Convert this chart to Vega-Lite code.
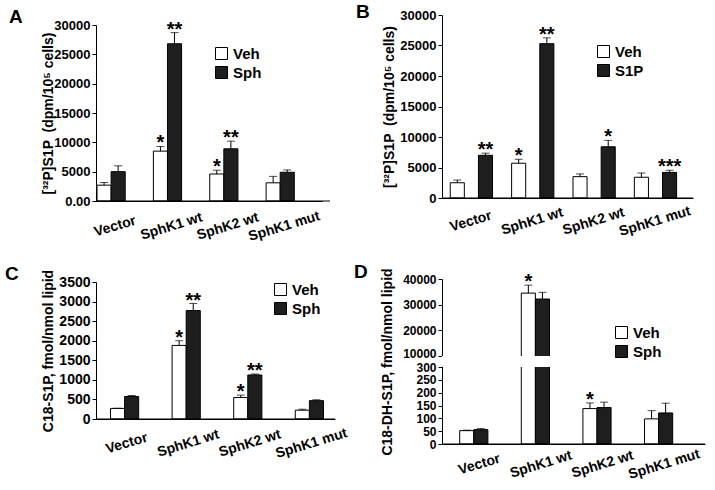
{
  "$schema": "https://vega.github.io/schema/vega-lite/v6.json",
  "padding": {"left": 5, "top": 3, "right": 5, "bottom": 5},
  "columns": 2,
  "bounds": "flush",
  "align": {"row": "all", "column": "none"},
  "spacing": {"row": 78, "column": 107},
  "resolve": {"scale": {"color": "independent"}, "legend": {"color": "independent"}},
  "concat": [
    {
      "width": 234, "height": 186,
      "title": {"text": "A", "anchor": "start", "frame": "group", "dx": -87, "dy": 11.7, "offset": 0},
      "layer": [
        {"data": {"name": "da", "values": [
          {"g": "Vector", "t": "Veh", "v": 2700, "hi": 3150, "sig": ""},
          {"g": "Vector", "t": "Sph", "v": 5000, "hi": 6000, "sig": ""},
          {"g": "SphK1 wt", "t": "Veh", "v": 8500, "hi": 9300, "sig": "*"},
          {"g": "SphK1 wt", "t": "Sph", "v": 26800, "hi": 28700, "sig": "**"},
          {"g": "SphK2 wt", "t": "Veh", "v": 4600, "hi": 5250, "sig": "*"},
          {"g": "SphK2 wt", "t": "Sph", "v": 8900, "hi": 10200, "sig": "**"},
          {"g": "SphK1 mut", "t": "Veh", "v": 3100, "hi": 4200, "sig": ""},
          {"g": "SphK1 mut", "t": "Sph", "v": 4900, "hi": 5300, "sig": ""}
        ]},
         "mark": {"type": "bar", "stroke": "black", "strokeWidth": 1},
         "encoding": {
           "x": {"field": "g", "type": "nominal",
                 "scale": {"domain": ["Vector", "SphK1 wt", "SphK2 wt", "SphK1 mut"], "range": [0, 226], "paddingInner": 0.25, "paddingOuter": 0.13, "align": 0.07},
                 "axis": {"title": null, "labelPadding": 25}},
           "xOffset": {"field": "t", "type": "nominal", "scale": {"domain": ["Veh", "Sph"], "paddingInner": 0, "paddingOuter": 0}},
           "y": {"field": "v", "type": "quantitative", "stack": null,
                 "scale": {"domain": [0, 30000], "range": [186, 10], "nice": false},
                 "axis": {"values": [0, 5000, 10000, 15000, 20000, 25000, 30000], "labelExpr": "datum.value === 0 ? '0.00' : format(datum.value, 'd')", "title": "[³²P]S1P \u00a0(dpm/10⁵ cells)", "titlePadding": -2}},
           "color": {"field": "t", "type": "nominal", "scale": {"domain": ["Veh", "Sph"], "range": ["#ffffff", "#1e1e1e"]},
                     "legend": {"title": null, "orient": "none", "legendX": 118, "legendY": 31}}}},
        {"data": {"values": [{"z": 0}]},
         "mark": {"type": "rule", "color": "black", "strokeWidth": 1},
         "encoding": {"y": {"field": "z", "type": "quantitative",
                 "axis": {"values": [0, 5000, 10000, 15000, 20000, 25000, 30000], "labelExpr": "datum.value === 0 ? '0.00' : format(datum.value, 'd')", "title": "[³²P]S1P \u00a0(dpm/10⁵ cells)", "titlePadding": -2}}}},
        {"data": {"name": "da"},
         "mark": {"type": "rule", "color": "black", "strokeWidth": 1},
         "encoding": {
           "x": {"field": "g", "type": "nominal", "axis": {"title": null, "labelPadding": 25}},
           "xOffset": {"field": "t", "type": "nominal"},
           "y": {"field": "v", "type": "quantitative",
                 "axis": {"values": [0, 5000, 10000, 15000, 20000, 25000, 30000], "labelExpr": "datum.value === 0 ? '0.00' : format(datum.value, 'd')", "title": "[³²P]S1P \u00a0(dpm/10⁵ cells)", "titlePadding": -2}}, "y2": {"field": "hi"}}},
        {"data": {"name": "da"},
         "mark": {"type": "tick", "color": "black", "thickness": 1, "size": 8, "orient": "horizontal"},
         "encoding": {
           "x": {"field": "g", "type": "nominal", "axis": {"title": null, "labelPadding": 25}},
           "xOffset": {"field": "t", "type": "nominal"},
           "y": {"field": "hi", "type": "quantitative",
                 "axis": {"values": [0, 5000, 10000, 15000, 20000, 25000, 30000], "labelExpr": "datum.value === 0 ? '0.00' : format(datum.value, 'd')", "title": "[³²P]S1P \u00a0(dpm/10⁵ cells)", "titlePadding": -2}}}},
        {"data": {"name": "da"},
         "transform": [{"filter": "datum.sig != ''"}],
         "mark": {"type": "text", "fontSize": 20, "fontWeight": "bold", "baseline": "alphabetic", "dy": 3},
         "encoding": {
           "x": {"field": "g", "type": "nominal", "axis": {"title": null, "labelPadding": 25}},
           "xOffset": {"field": "t", "type": "nominal"},
           "y": {"field": "hi", "type": "quantitative",
                 "axis": {"values": [0, 5000, 10000, 15000, 20000, 25000, 30000], "labelExpr": "datum.value === 0 ? '0.00' : format(datum.value, 'd')", "title": "[³²P]S1P \u00a0(dpm/10⁵ cells)", "titlePadding": -2}}, "text": {"field": "sig"}}}
      ]
    },
    {
      "width": 251, "height": 183,
      "title": {"text": "B", "anchor": "start", "frame": "group", "dx": -86, "dy": 13, "offset": 0},
      "layer": [
        {"data": {"name": "db", "values": [
          {"g": "Vector", "t": "Veh", "v": 2500, "hi": 2950, "sig": ""},
          {"g": "Vector", "t": "S1P", "v": 7000, "hi": 7350, "sig": "**"},
          {"g": "SphK1 wt", "t": "Veh", "v": 5700, "hi": 6350, "sig": "*"},
          {"g": "SphK1 wt", "t": "S1P", "v": 25300, "hi": 26250, "sig": "**"},
          {"g": "SphK2 wt", "t": "Veh", "v": 3500, "hi": 3950, "sig": ""},
          {"g": "SphK2 wt", "t": "S1P", "v": 8400, "hi": 9450, "sig": "*"},
          {"g": "SphK1 mut", "t": "Veh", "v": 3400, "hi": 4100, "sig": ""},
          {"g": "SphK1 mut", "t": "S1P", "v": 4200, "hi": 4550, "sig": "***"}
        ]},
         "mark": {"type": "bar", "stroke": "black", "strokeWidth": 1},
         "encoding": {
           "x": {"field": "g", "type": "nominal",
                 "scale": {"domain": ["Vector", "SphK1 wt", "SphK2 wt", "SphK1 mut"], "paddingInner": 0.23, "paddingOuter": 0.16, "align": 0.42},
                 "axis": {"title": null, "labelPadding": 23}},
           "xOffset": {"field": "t", "type": "nominal", "scale": {"domain": ["Veh", "S1P"], "paddingInner": 0, "paddingOuter": 0}},
           "y": {"field": "v", "type": "quantitative", "stack": null,
                 "scale": {"domain": [0, 30000], "nice": false},
                 "axis": {"values": [0, 5000, 10000, 15000, 20000, 25000, 30000], "format": "d", "title": "[³²P]S1P \u00a0(dpm/10⁵ cells)"}},
           "color": {"field": "t", "type": "nominal", "scale": {"domain": ["Veh", "S1P"], "range": ["#ffffff", "#1e1e1e"]},
                     "legend": {"title": null, "orient": "none", "legendX": 154, "legendY": 29}}}},
        {"data": {"values": [{"z": 0}]},
         "mark": {"type": "rule", "color": "black", "strokeWidth": 1},
         "encoding": {"y": {"field": "z", "type": "quantitative",
                 "axis": {"values": [0, 5000, 10000, 15000, 20000, 25000, 30000], "format": "d", "title": "[³²P]S1P \u00a0(dpm/10⁵ cells)"}}}},
        {"data": {"name": "db"},
         "mark": {"type": "rule", "color": "black", "strokeWidth": 1},
         "encoding": {
           "x": {"field": "g", "type": "nominal", "axis": {"title": null, "labelPadding": 23}},
           "xOffset": {"field": "t", "type": "nominal"},
           "y": {"field": "v", "type": "quantitative",
                 "axis": {"values": [0, 5000, 10000, 15000, 20000, 25000, 30000], "format": "d", "title": "[³²P]S1P \u00a0(dpm/10⁵ cells)"}}, "y2": {"field": "hi"}}},
        {"data": {"name": "db"},
         "mark": {"type": "tick", "color": "black", "thickness": 1, "size": 8, "orient": "horizontal"},
         "encoding": {
           "x": {"field": "g", "type": "nominal", "axis": {"title": null, "labelPadding": 23}},
           "xOffset": {"field": "t", "type": "nominal"},
           "y": {"field": "hi", "type": "quantitative",
                 "axis": {"values": [0, 5000, 10000, 15000, 20000, 25000, 30000], "format": "d", "title": "[³²P]S1P \u00a0(dpm/10⁵ cells)"}}}},
        {"data": {"name": "db"},
         "transform": [{"filter": "datum.sig != ''"}],
         "mark": {"type": "text", "fontSize": 20, "fontWeight": "bold", "baseline": "alphabetic", "dy": 3},
         "encoding": {
           "x": {"field": "g", "type": "nominal", "axis": {"title": null, "labelPadding": 23}},
           "xOffset": {"field": "t", "type": "nominal"},
           "y": {"field": "hi", "type": "quantitative",
                 "axis": {"values": [0, 5000, 10000, 15000, 20000, 25000, 30000], "format": "d", "title": "[³²P]S1P \u00a0(dpm/10⁵ cells)"}}, "text": {"field": "sig"}}}
      ]
    },
    {
      "width": 239, "height": 140,
      "title": {"text": "C", "anchor": "start", "frame": "group", "dx": -91, "dy": 15, "offset": 0},
      "layer": [
        {"data": {"name": "dc", "values": [
          {"g": "Vector", "t": "Veh", "v": 270, "hi": 275, "sig": ""},
          {"g": "Vector", "t": "Sph", "v": 575, "hi": 600, "sig": ""},
          {"g": "SphK1 wt", "t": "Veh", "v": 1880, "hi": 2000, "sig": "*"},
          {"g": "SphK1 wt", "t": "Sph", "v": 2770, "hi": 2950, "sig": "**"},
          {"g": "SphK2 wt", "t": "Veh", "v": 550, "hi": 610, "sig": "*"},
          {"g": "SphK2 wt", "t": "Sph", "v": 1125, "hi": 1150, "sig": "**"},
          {"g": "SphK1 mut", "t": "Veh", "v": 225, "hi": 250, "sig": ""},
          {"g": "SphK1 mut", "t": "Sph", "v": 468, "hi": 492, "sig": ""}
        ]},
         "mark": {"type": "bar", "stroke": "black", "strokeWidth": 1},
         "encoding": {
           "x": {"field": "g", "type": "nominal",
                 "scale": {"domain": ["Vector", "SphK1 wt", "SphK2 wt", "SphK1 mut"], "paddingInner": 0.376, "paddingOuter": 0.128, "align": 0.92},
                 "axis": {"title": null, "labelPadding": 24}},
           "xOffset": {"field": "t", "type": "nominal", "scale": {"domain": ["Veh", "Sph"], "paddingInner": 0, "paddingOuter": 0}},
           "y": {"field": "v", "type": "quantitative", "stack": null,
                 "scale": {"domain": [0, 3500], "range": [140, 3], "nice": false},
                 "axis": {"values": [0, 500, 1000, 1500, 2000, 2500, 3000, 3500], "format": "d", "title": "C18-S1P, fmol/nmol lipid", "labelFontSize": 14}},
           "color": {"field": "t", "type": "nominal", "scale": {"domain": ["Veh", "Sph"], "range": ["#ffffff", "#1e1e1e"]},
                     "legend": {"title": null, "orient": "none", "legendX": 177, "legendY": 3}}}},
        {"data": {"values": [{"z": 0}]},
         "mark": {"type": "rule", "color": "black", "strokeWidth": 1},
         "encoding": {"y": {"field": "z", "type": "quantitative",
                 "axis": {"values": [0, 500, 1000, 1500, 2000, 2500, 3000, 3500], "format": "d", "title": "C18-S1P, fmol/nmol lipid", "labelFontSize": 14}}}},
        {"data": {"name": "dc"},
         "mark": {"type": "rule", "color": "black", "strokeWidth": 1},
         "encoding": {
           "x": {"field": "g", "type": "nominal", "axis": {"title": null, "labelPadding": 24}},
           "xOffset": {"field": "t", "type": "nominal"},
           "y": {"field": "v", "type": "quantitative",
                 "axis": {"values": [0, 500, 1000, 1500, 2000, 2500, 3000, 3500], "format": "d", "title": "C18-S1P, fmol/nmol lipid", "labelFontSize": 14}}, "y2": {"field": "hi"}}},
        {"data": {"name": "dc"},
         "mark": {"type": "tick", "color": "black", "thickness": 1, "size": 8, "orient": "horizontal"},
         "encoding": {
           "x": {"field": "g", "type": "nominal", "axis": {"title": null, "labelPadding": 24}},
           "xOffset": {"field": "t", "type": "nominal"},
           "y": {"field": "hi", "type": "quantitative",
                 "axis": {"values": [0, 500, 1000, 1500, 2000, 2500, 3000, 3500], "format": "d", "title": "C18-S1P, fmol/nmol lipid", "labelFontSize": 14}}}},
        {"data": {"name": "dc"},
         "transform": [{"filter": "datum.sig != ''"}],
         "mark": {"type": "text", "fontSize": 20, "fontWeight": "bold", "baseline": "alphabetic", "dy": 3},
         "encoding": {
           "x": {"field": "g", "type": "nominal", "axis": {"title": null, "labelPadding": 24}},
           "xOffset": {"field": "t", "type": "nominal"},
           "y": {"field": "hi", "type": "quantitative",
                 "axis": {"values": [0, 500, 1000, 1500, 2000, 2500, 3000, 3500], "format": "d", "title": "C18-S1P, fmol/nmol lipid", "labelFontSize": 14}}, "text": {"field": "sig"}}}
      ]
    },
    {
      "width": 263, "height": 165,
      "title": {"text": "D", "anchor": "start", "frame": "group", "dx": -88, "dy": 14, "offset": 0},
      "layer": [
        {"data": {"name": "dd", "values": [
          {"g": "Vector", "t": "Veh", "v": 52, "hi": 54, "sig": ""},
          {"g": "Vector", "t": "Sph", "v": 56, "hi": 60, "sig": ""},
          {"g": "SphK1 wt", "t": "Veh", "v": 34500, "hi": 37600, "sig": "*"},
          {"g": "SphK1 wt", "t": "Sph", "v": 32200, "hi": 34800, "sig": ""},
          {"g": "SphK2 wt", "t": "Veh", "v": 138, "hi": 160, "sig": "*"},
          {"g": "SphK2 wt", "t": "Sph", "v": 142, "hi": 163, "sig": ""},
          {"g": "SphK1 mut", "t": "Veh", "v": 98, "hi": 130, "sig": ""},
          {"g": "SphK1 mut", "t": "Sph", "v": 121, "hi": 159, "sig": ""}
        ]},
         "mark": {"type": "bar", "stroke": "black", "strokeWidth": 1},
         "encoding": {
           "x": {"field": "g", "type": "nominal",
                 "scale": {"domain": ["Vector", "SphK1 wt", "SphK2 wt", "SphK1 mut"], "paddingInner": 0.263, "paddingOuter": 0.266, "align": 0.54},
                 "axis": {"title": null, "labelPadding": 20}},
           "xOffset": {"field": "t", "type": "nominal", "scale": {"domain": ["Veh", "Sph"], "paddingInner": 0, "paddingOuter": 0}},
           "y": {"field": "v", "type": "quantitative", "stack": null,
                 "scale": {"domain": [0, 300, 10000, 40000], "range": [165, 88, 77, 0], "nice": false, "zero": false},
                 "axis": {"values": [0, 50, 100, 150, 200, 250, 300, 10000, 20000, 30000, 40000], "format": "d", "title": "C18-DH-S1P, fmol/nmol lipid", "titlePadding": 8, "labelFontSize": 12,
                          "labelOffset": {"condition": {"test": "datum.value === 10000", "value": -3}, "value": 0}}},
           "color": {"field": "t", "type": "nominal", "scale": {"domain": ["Veh", "Sph"], "range": ["#ffffff", "#1e1e1e"]},
                     "legend": {"title": null, "orient": "none", "legendX": 172, "legendY": 46}}}},
        {"data": {"values": [{"lo": 300, "up": 10000}]},
         "mark": {"type": "rect", "color": "white"},
         "encoding": {"y": {"field": "lo", "type": "quantitative",
                 "axis": {"values": [0, 50, 100, 150, 200, 250, 300, 10000, 20000, 30000, 40000], "format": "d", "title": "C18-DH-S1P, fmol/nmol lipid", "titlePadding": 8, "labelFontSize": 12,
                          "labelOffset": {"condition": {"test": "datum.value === 10000", "value": -3}, "value": 0}}}, "y2": {"field": "up"}}},
        {"data": {"values": [{"z": 0}]},
         "mark": {"type": "rule", "color": "black", "strokeWidth": 1},
         "encoding": {"y": {"field": "z", "type": "quantitative",
                 "axis": {"values": [0, 50, 100, 150, 200, 250, 300, 10000, 20000, 30000, 40000], "format": "d", "title": "C18-DH-S1P, fmol/nmol lipid", "titlePadding": 8, "labelFontSize": 12,
                          "labelOffset": {"condition": {"test": "datum.value === 10000", "value": -3}, "value": 0}}}}},
        {"data": {"name": "dd"},
         "mark": {"type": "rule", "color": "black", "strokeWidth": 1},
         "encoding": {
           "x": {"field": "g", "type": "nominal", "axis": {"title": null, "labelPadding": 20}},
           "xOffset": {"field": "t", "type": "nominal"},
           "y": {"field": "v", "type": "quantitative",
                 "axis": {"values": [0, 50, 100, 150, 200, 250, 300, 10000, 20000, 30000, 40000], "format": "d", "title": "C18-DH-S1P, fmol/nmol lipid", "titlePadding": 8, "labelFontSize": 12,
                          "labelOffset": {"condition": {"test": "datum.value === 10000", "value": -3}, "value": 0}}}, "y2": {"field": "hi"}}},
        {"data": {"name": "dd"},
         "mark": {"type": "tick", "color": "black", "thickness": 1, "size": 8, "orient": "horizontal"},
         "encoding": {
           "x": {"field": "g", "type": "nominal", "axis": {"title": null, "labelPadding": 20}},
           "xOffset": {"field": "t", "type": "nominal"},
           "y": {"field": "hi", "type": "quantitative",
                 "axis": {"values": [0, 50, 100, 150, 200, 250, 300, 10000, 20000, 30000, 40000], "format": "d", "title": "C18-DH-S1P, fmol/nmol lipid", "titlePadding": 8, "labelFontSize": 12,
                          "labelOffset": {"condition": {"test": "datum.value === 10000", "value": -3}, "value": 0}}}}},
        {"data": {"name": "dd"},
         "transform": [{"filter": "datum.sig != ''"}],
         "mark": {"type": "text", "fontSize": 20, "fontWeight": "bold", "baseline": "alphabetic", "dy": 3},
         "encoding": {
           "x": {"field": "g", "type": "nominal", "axis": {"title": null, "labelPadding": 20}},
           "xOffset": {"field": "t", "type": "nominal"},
           "y": {"field": "hi", "type": "quantitative",
                 "axis": {"values": [0, 50, 100, 150, 200, 250, 300, 10000, 20000, 30000, 40000], "format": "d", "title": "C18-DH-S1P, fmol/nmol lipid", "titlePadding": 8, "labelFontSize": 12,
                          "labelOffset": {"condition": {"test": "datum.value === 10000", "value": -3}, "value": 0}}}, "text": {"field": "sig"}}}
      ]
    }
  ],
  "config": {
    "font": "Liberation Sans",
    "view": {"stroke": null},
    "title": {"fontSize": 19, "fontWeight": "bold", "baseline": "alphabetic", "color": "black", "font": "Liberation Sans"},
    "axis": {"domain": true, "domainColor": "black", "domainWidth": 1, "tickColor": "black", "labelColor": "black", "titleColor": "black",
             "labelFontWeight": "bold", "titleFontWeight": "bold", "labelFontSize": 13, "titleFontSize": 14,
             "grid": false, "labelFont": "Liberation Sans", "titleFont": "Liberation Sans", "labelOverlap": false},
    "axisX": {"labelAngle": -17, "labelAlign": "center", "labelBaseline": "middle", "tickSize": 0, "labelOffset": -3, "labelFontSize": 14},
    "axisY": {"tickSize": 4, "labelPadding": 2, "titlePadding": 3},
    "legend": {"symbolType": "square", "symbolSize": 144, "symbolStrokeColor": "black", "symbolStrokeWidth": 1,
               "labelFontSize": 15, "labelFontWeight": "bold", "labelFont": "Liberation Sans", "labelColor": "black",
               "rowPadding": 2, "labelOffset": 4, "padding": 0}
  }
}
